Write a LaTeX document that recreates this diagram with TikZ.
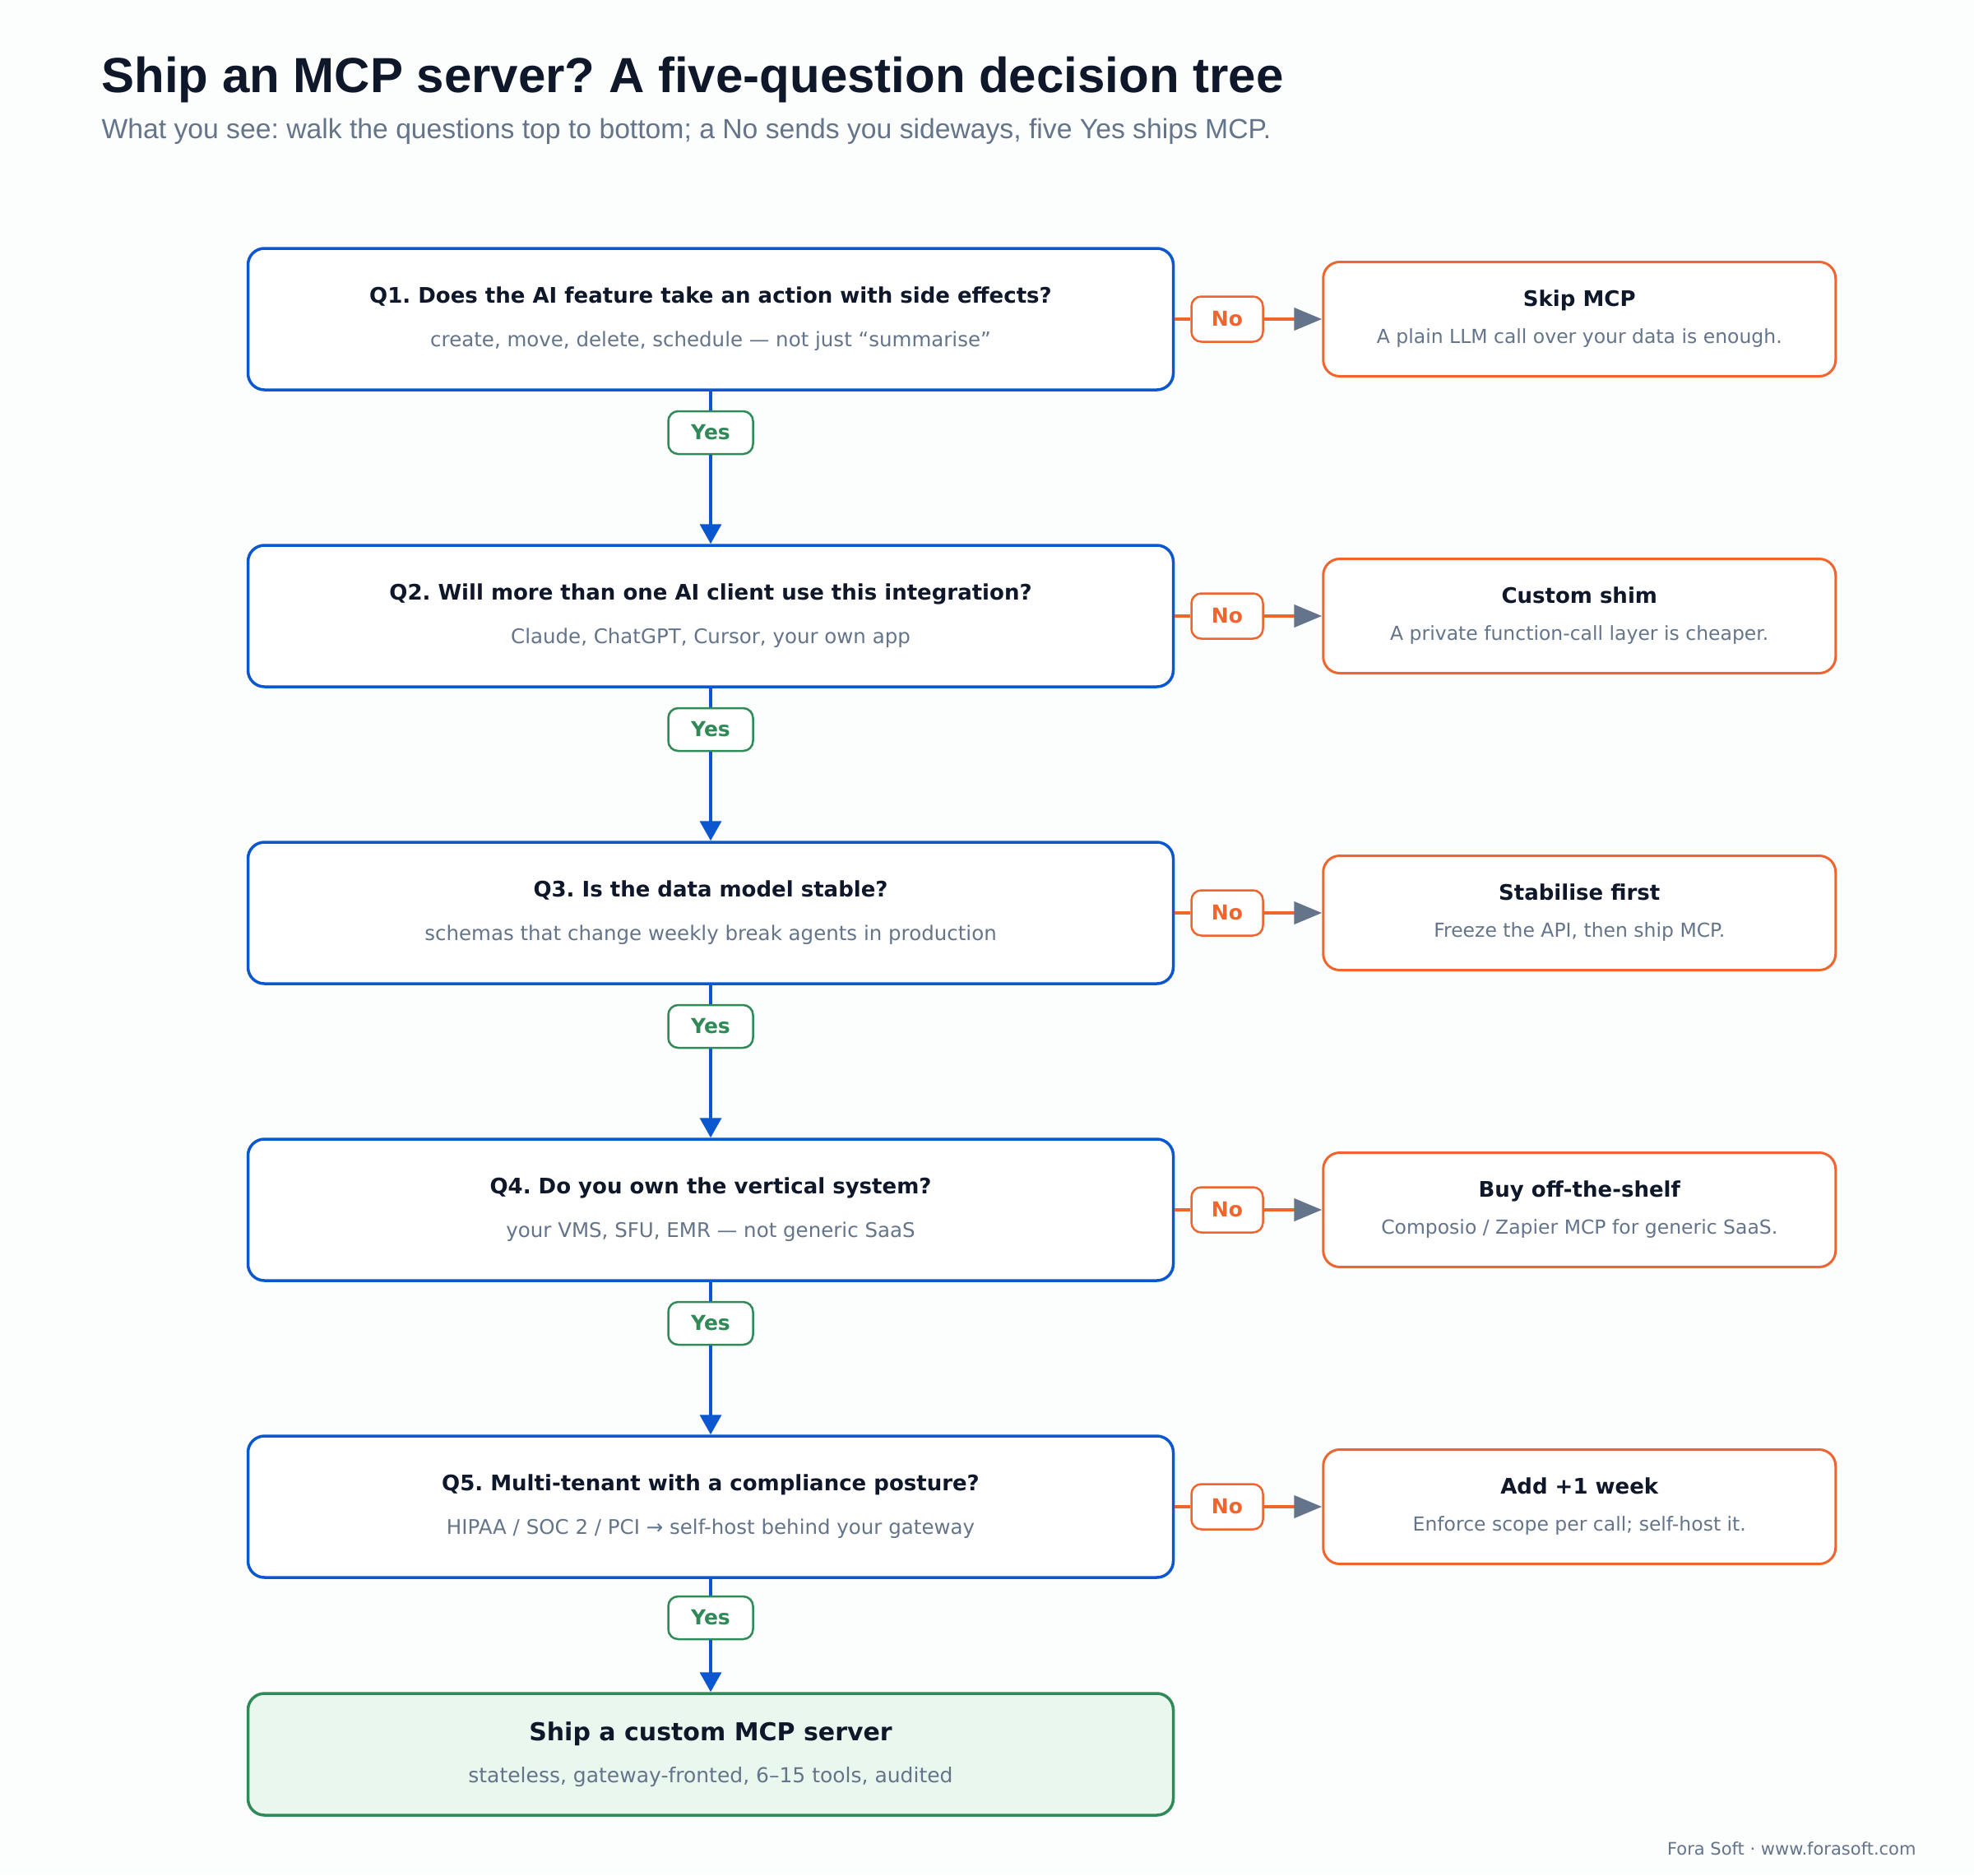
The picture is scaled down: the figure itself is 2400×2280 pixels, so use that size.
\documentclass[tikz,border=0pt]{standalone}
\usepackage{fontspec}
\setmainfont{DejaVu Sans}
\newfontfamily\titlefont{Liberation Sans}
\usetikzlibrary{positioning,arrows.meta}

\definecolor{ink}{HTML}{0F172A}
\definecolor{slate}{HTML}{64748B}
\definecolor{qblue}{HTML}{0B57D0}
\definecolor{noorange}{HTML}{F0642D}
\definecolor{yesgreen}{HTML}{2F8A57}
\definecolor{shipfill}{HTML}{EAF7EE}
\definecolor{paper}{HTML}{FCFDFD}

\newcommand\qhead[1]{{\fontsize{26}{31}\selectfont\bfseries\color{ink}#1}}
\newcommand\shead[1]{{\fontsize{26}{31}\selectfont\bfseries\color{ink}#1}}

\tikzset{
  qbox/.style={draw=qblue, line width=3.5pt, rounded corners=20pt, fill=white,
    minimum width=1125pt, minimum height=172pt, align=center,
    font=\fontsize{24.5}{29}\selectfont, text=slate},
  sidebox/.style={draw=noorange, line width=3pt, rounded corners=20pt, fill=white,
    minimum width=623pt, minimum height=139pt, align=center,
    font=\fontsize{23.5}{28}\selectfont, text=slate},
  shipbox/.style={draw=yesgreen, line width=3.5pt, rounded corners=20pt, fill=shipfill,
    minimum width=1125pt, minimum height=148pt, align=center,
    font=\fontsize{25}{30}\selectfont, text=slate},
  yeslabel/.style={draw=yesgreen, line width=2.5pt, rounded corners=12pt, fill=white,
    minimum width=103pt, minimum height=52pt, inner sep=0pt,
    font=\fontsize{25}{29}\selectfont\bfseries, text=yesgreen},
  nolabel/.style={draw=noorange, line width=2.5pt, rounded corners=12pt, fill=white,
    minimum width=87pt, minimum height=55pt, inner sep=0pt,
    font=\fontsize{25}{29}\selectfont\bfseries, text=noorange},
  yesline/.style={draw=qblue, line width=3.5pt},
  yesarrow/.style={draw=qblue, line width=3.5pt, -{Triangle[length=24pt,width=26pt]}},
  noline/.style={draw=noorange, line width=4.5pt},
  noarrow/.style={draw=noorange, line width=4.5pt, -{Triangle[length=34pt,width=27pt,color=slate]}}
}

\frenchspacing
\begin{document}
\begin{tikzpicture}[x=1pt,y=-1pt]
\fill[paper] (0,0) rectangle (2400,2280);
\useasboundingbox (0,0) rectangle (2400,2280);

\node[anchor=base west, text=ink, font=\titlefont\fontsize{60}{70}\selectfont\bfseries] (title) at (120,113)
  {Ship an MCP server? A five-question decision tree};
\node[anchor=base west, text=slate, font=\titlefont\fontsize{33.7}{40}\selectfont] (sub) at (120,168)
  {What you see: walk the questions top to bottom; a No sends you sideways, five Yes ships MCP.};

% questions
\node[qbox] (q1) at (864,388) {\qhead{Q1. Does the AI feature take an action with side effects?}\\[24pt]create, move, delete, schedule — not just “summarise”};
\node[qbox] (q2) [below=185.5pt of q1] {\qhead{Q2. Will more than one AI client use this integration?}\\[24pt]Claude, ChatGPT, Cursor, your own app};
\node[qbox] (q3) [below=185.5pt of q2] {\qhead{Q3. Is the data model stable?}\\[24pt]schemas that change weekly break agents in production};
\node[qbox] (q4) [below=185.5pt of q3] {\qhead{Q4. Do you own the vertical system?}\\[24pt]your VMS, SFU, EMR — not generic SaaS};
\node[qbox] (q5) [below=185.5pt of q4] {\qhead{Q5. Multi-tenant with a compliance posture?}\\[24pt]HIPAA / SOC 2 / PCI → self-host behind your gateway};
\node[shipbox] (ship) [below=137.5pt of q5] {{\fontsize{30}{36}\selectfont\bfseries\color{ink}Ship a custom MCP server}\\[21pt]stateless, gateway-fronted, 6–15 tools, audited};

% yes labels
\node[yeslabel] (y1) [below=23pt of q1] {Yes};
\node[yeslabel] (y2) [below=23pt of q2] {Yes};
\node[yeslabel] (y3) [below=23pt of q3] {Yes};
\node[yeslabel] (y4) [below=23pt of q4] {Yes};
\node[yeslabel] (y5) [below=20pt of q5] {Yes};

% no labels and outcomes
\node[nolabel] (n1) [right=19pt of q1] {No};
\node[nolabel] (n2) [right=19pt of q2] {No};
\node[nolabel] (n3) [right=19pt of q3] {No};
\node[nolabel] (n4) [right=19pt of q4] {No};
\node[nolabel] (n5) [right=19pt of q5] {No};

\node[sidebox] (s1) [right=179pt of q1] {\shead{Skip MCP}\\[17pt]A plain LLM call over your data is enough.};
\node[sidebox] (s2) [right=179pt of q2] {\shead{Custom shim}\\[17pt]A private function-call layer is cheaper.};
\node[sidebox] (s3) [right=179pt of q3] {\shead{Stabilise first}\\[17pt]Freeze the API, then ship MCP.};
\node[sidebox] (s4) [right=179pt of q4] {\shead{Buy off-the-shelf}\\[17pt]Composio / Zapier MCP for generic SaaS.};
\node[sidebox] (s5) [right=179pt of q5] {\shead{Add +1 week}\\[17pt]Enforce scope per call; self-host it.};

\draw[yesline] (q1) -- (y1);
\draw[yesarrow] (y1) -- (q2);
\draw[yesline] (q2) -- (y2);
\draw[yesarrow] (y2) -- (q3);
\draw[yesline] (q3) -- (y3);
\draw[yesarrow] (y3) -- (q4);
\draw[yesline] (q4) -- (y4);
\draw[yesarrow] (y4) -- (q5);
\draw[yesline] (q5) -- (y5);
\draw[yesarrow] (y5) -- (ship);

\draw[noline] (q1) -- (n1);
\draw[noarrow] (n1) -- (s1);
\draw[noline] (q2) -- (n2);
\draw[noarrow] (n2) -- (s2);
\draw[noline] (q3) -- (n3);
\draw[noarrow] (n3) -- (s3);
\draw[noline] (q4) -- (n4);
\draw[noarrow] (n4) -- (s4);
\draw[noline] (q5) -- (n5);
\draw[noarrow] (n5) -- (s5);

\node[anchor=base east, text=slate, font=\fontsize{21}{25}\selectfont] (foot) at (2333,2255) {Fora Soft · www.forasoft.com};
\end{tikzpicture}
\end{document}
